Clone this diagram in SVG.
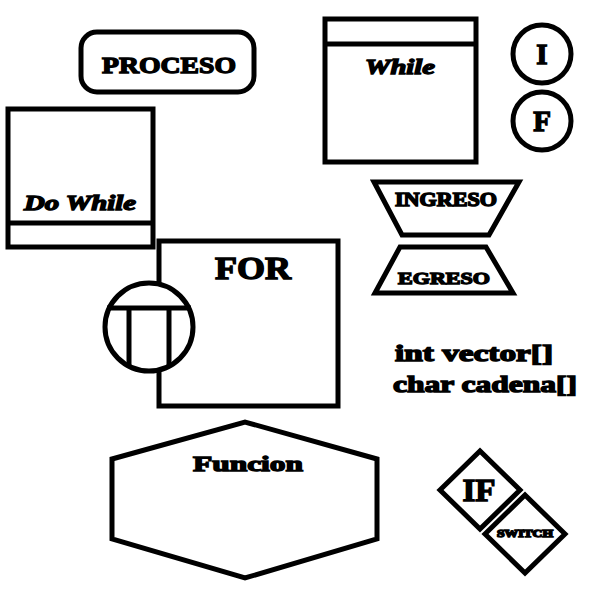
<svg xmlns="http://www.w3.org/2000/svg" width="614" height="614" viewBox="0 0 614 614">
<style>
.s{fill:#fff;stroke:#000;stroke-width:5;stroke-linejoin:miter}
.l{stroke:#000;stroke-width:5;fill:none}
.t{font-family:"Liberation Serif","DejaVu Serif",serif;font-weight:bold;fill:#000;stroke:#000;stroke-width:1.4;text-anchor:middle}
.i{font-style:italic}
</style>
<rect width="614" height="614" fill="#fff"/>
<g id="proceso">
<rect class="s" x="81" y="32" width="173" height="60" rx="16" ry="16"/>
<text class="t" x="169" y="73" font-size="24" textLength="134" lengthAdjust="spacingAndGlyphs">PROCESO</text>
</g>
<g id="dowhile">
<rect class="s" x="8" y="109" width="145" height="138"/>
<line class="l" x1="8" y1="223" x2="153" y2="223"/>
<text class="t i" x="80" y="210" font-size="22" textLength="112" lengthAdjust="spacingAndGlyphs">Do While</text>
</g>
<g id="while">
<rect class="s" x="325" y="19" width="151" height="143"/>
<line class="l" x1="325" y1="44" x2="476" y2="44"/>
<text class="t i" x="400" y="74" font-size="22" textLength="70" lengthAdjust="spacingAndGlyphs">While</text>
</g>
<g id="inicio">
<circle class="s" cx="542" cy="54" r="29"/>
<text class="t" x="542" y="64" font-size="29">I</text>
</g>
<g id="fin">
<circle class="s" cx="542" cy="121" r="29"/>
<text class="t" x="542" y="131" font-size="29">F</text>
</g>
<g id="ingreso">
<polygon class="s" points="374,182 519,182 489,235 402,235"/>
<text class="t" x="446" y="206" font-size="18" textLength="102" lengthAdjust="spacingAndGlyphs">INGRESO</text>
</g>
<g id="egreso">
<polygon class="s" points="400,247 486,247 513,293 375,293"/>
<text class="t" x="444" y="284" font-size="17" textLength="92" lengthAdjust="spacingAndGlyphs">EGRESO</text>
</g>
<g id="for">
<rect class="s" x="159" y="241" width="179" height="165"/>
<text class="t" x="253" y="279" font-size="31" textLength="76" lengthAdjust="spacingAndGlyphs">FOR</text>
</g>
<g id="foricon">
<circle class="s" cx="149" cy="327" r="44"/>
<line class="l" x1="107" y1="308" x2="191" y2="308"/>
<line class="l" x1="129" y1="308" x2="129" y2="366"/>
<line class="l" x1="169" y1="308" x2="169" y2="366"/>
</g>
<g id="vars">
<text class="t" x="474" y="361" font-size="23" textLength="158" lengthAdjust="spacingAndGlyphs">int vector[]</text>
<text class="t" x="485" y="392" font-size="23" textLength="184" lengthAdjust="spacingAndGlyphs">char cadena[]</text>
</g>
<g id="funcion">
<polygon class="s" points="112,459 245,422 377,459 377,539 245,578 112,539"/>
<text class="t" x="248" y="471" font-size="22" textLength="110" lengthAdjust="spacingAndGlyphs">Funcion</text>
</g>
<g id="if">
<polygon class="s" points="440,490 480,451 520,490 480,529"/>
<text class="t" x="479" y="501" font-size="31" textLength="33" lengthAdjust="spacingAndGlyphs">IF</text>
</g>
<g id="switch">
<polygon class="s" points="485,534 525,495 565,534 525,573"/>
<text class="t" x="525" y="537" font-size="10" stroke-width="0.5" textLength="56" lengthAdjust="spacingAndGlyphs">SWITCH</text>
</g>
<g id="connectors"></g>
</svg>
